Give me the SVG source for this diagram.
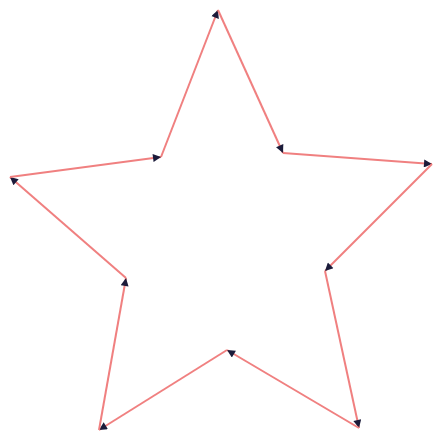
<svg xmlns="http://www.w3.org/2000/svg" width="434" height="432" viewBox="0 0 434 432">
<style>
.edge{stroke:#f08080;stroke-width:2;fill:none;marker-end:url(#ah)}
</style>
<defs>
<marker id="ah" viewBox="0 0 10 10" refX="10" refY="5" markerWidth="10" markerHeight="8" markerUnits="userSpaceOnUse" orient="auto">
<path d="M0,0 L10,5 L0,10 z" fill="#1b1b3a"/>
</marker>
</defs>
<rect width="434" height="432" fill="#ffffff"/>
<g id="connectors">
<line class="edge" x1="161" y1="157" x2="218" y2="10"/>
<line class="edge" x1="218" y1="10" x2="283" y2="153"/>
<line class="edge" x1="283" y1="153" x2="432" y2="164"/>
<line class="edge" x1="432" y1="164" x2="325" y2="271"/>
<line class="edge" x1="325" y1="271" x2="359" y2="428"/>
<line class="edge" x1="359" y1="428" x2="227" y2="350"/>
<line class="edge" x1="227" y1="350" x2="99" y2="430"/>
<line class="edge" x1="99" y1="430" x2="126" y2="278"/>
<line class="edge" x1="126" y1="278" x2="10" y2="177"/>
<line class="edge" x1="10" y1="177" x2="161" y2="157"/>
</g>
</svg>
